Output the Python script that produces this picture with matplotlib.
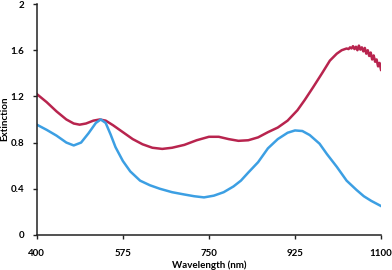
import matplotlib
matplotlib.use("Agg")
import matplotlib.pyplot as plt

blue_wl = [400, 420, 440, 460, 475, 490, 505, 520, 530, 540, 550, 560, 575, 590, 610, 630, 650,
           675, 700, 720, 740, 760, 780, 800, 815, 830, 850, 870, 890, 910, 925, 940, 955, 975, 990,
           1010, 1030, 1050, 1065, 1080, 1100]
blue_val = [0.955, 0.91, 0.86, 0.80, 0.775, 0.80, 0.88, 0.97, 1.00, 0.97, 0.87, 0.76, 0.64, 0.55,
            0.47, 0.43, 0.40, 0.37, 0.35, 0.335, 0.325, 0.34, 0.37, 0.42, 0.47, 0.54, 0.63, 0.75,
            0.83, 0.885, 0.905, 0.9, 0.865, 0.79, 0.70, 0.59, 0.47, 0.39, 0.335, 0.295, 0.25]

red_wl = [400, 420, 440, 460, 475, 487, 500, 515, 528, 540, 555, 575, 595, 615, 635, 655, 675,
          700, 725, 750, 770, 790, 810, 830, 850, 870, 890, 910, 930, 945, 962, 980, 996, 1010,
          1020, 1030, 1034, 1037, 1040, 1043, 1046, 1049, 1052, 1055, 1058, 1061, 1064, 1067,
          1070, 1073, 1076, 1079, 1082, 1085, 1088, 1091, 1094, 1097, 1100]
red_val = [1.22, 1.15, 1.07, 1.00, 0.965, 0.955, 0.965, 0.99, 1.00, 0.99, 0.95, 0.89, 0.83, 0.785,
           0.755, 0.745, 0.755, 0.78, 0.82, 0.85, 0.85, 0.83, 0.815, 0.82, 0.845, 0.89, 0.93,
           0.99, 1.08, 1.17, 1.28, 1.40, 1.51, 1.57, 1.60, 1.615, 1.61, 1.625, 1.615, 1.635,
           1.61, 1.63, 1.60, 1.64, 1.605, 1.625, 1.59, 1.62, 1.57, 1.60, 1.55, 1.58, 1.52, 1.555,
           1.50, 1.52, 1.46, 1.49, 1.43]

x_ticks = [400, 575, 750, 925, 1100]
y_ticks = [0, 0.4, 0.8, 1.2, 1.6, 2]
y_labels = ["0", "0.4", "0.8", "1.2", "1.6", "2"]

plt.rcParams['font.family'] = ['Lato', 'DejaVu Sans']
fig = plt.figure(figsize=(3.92, 2.70), dpi=100)
ax = fig.add_axes([0.094, 0.130, 0.878, 0.855])
ax.plot(red_wl, red_val, color='#b8244e', lw=1.8, solid_joinstyle='round')
ax.plot(blue_wl, blue_val, color='#3c9fe3', lw=1.8, solid_joinstyle='round')
ax.set_xlim(400, 1100)
ax.set_ylim(0, 2)
ax.set_xticks(x_ticks)
ax.set_xticklabels([str(t) for t in x_ticks])
ax.set_yticks(y_ticks)
ax.set_yticklabels(y_labels)
for s in ['top', 'right']:
    ax.spines[s].set_visible(False)
for s in ['left', 'bottom']:
    ax.spines[s].set_linewidth(1.1)
    ax.spines[s].set_color('#222222')
ax.tick_params(axis='x', length=3, width=1, pad=7, labelsize=7, color='#222222')
ax.tick_params(axis='y', length=3, width=1, pad=6, labelsize=7, color='#222222')
for lab in ax.get_xticklabels() + ax.get_yticklabels():
    lab.set_fontweight('bold')
fig.text(209 / 392, 1 - 265 / 270, 'Wavelength (nm)', fontsize=7, fontweight='bold',
         ha='center', va='center')
fig.text(5 / 392, 1 - 119 / 270, 'Extinction', fontsize=7, fontweight='bold',
         ha='center', va='center', rotation=90)
fig.savefig('out.png', dpi=100)
